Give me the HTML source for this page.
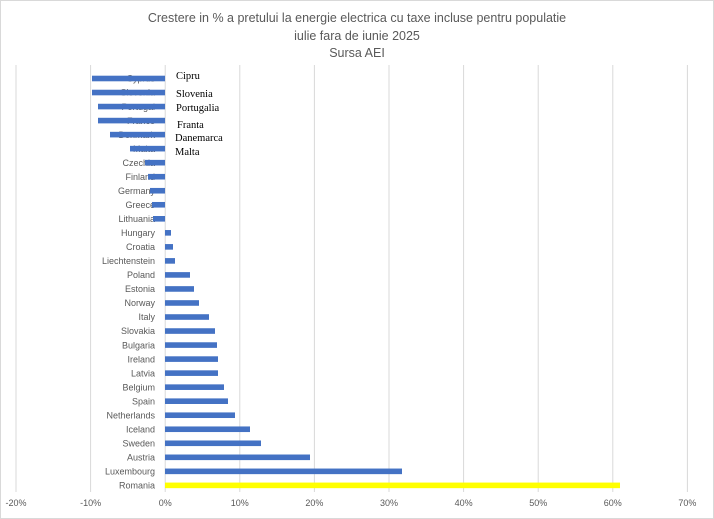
<!DOCTYPE html>
<html><head><meta charset="utf-8"><style>
body{margin:0;background:#fff}
svg{display:block}
</style></head><body>
<svg width="714" height="519" xmlns="http://www.w3.org/2000/svg">
<rect x="0.5" y="0.5" width="713" height="518" fill="#fff" stroke="#d9d9d9"/>
<g font-family="Liberation Sans, sans-serif" font-size="12.5" fill="#595959" text-anchor="middle">
<text x="357" y="22">Crestere in % a pretului la energie electrica cu taxe incluse pentru populatie</text>
<text x="357" y="40">iulie fara de iunie 2025</text>
<text x="357" y="57">Sursa AEI</text>
</g>
<g stroke="#d9d9d9" stroke-width="1" id="grid"></g>
<g id="lab" font-family="Liberation Sans, sans-serif" font-size="9" fill="#595959" text-anchor="end"></g>
<g id="bars"></g>
<g id="tick" font-family="Liberation Sans, sans-serif" font-size="9" fill="#595959" text-anchor="middle"></g>
<g font-family="Liberation Serif, serif" font-size="10.5" fill="#000">
<text x="176" y="79">Cipru</text>
<text x="176" y="97">Slovenia</text>
<text x="176" y="111">Portugalia</text>
<text x="177" y="128">Franta</text>
<text x="175" y="141">Danemarca</text>
<text x="175" y="155">Malta</text>
</g>
</svg>
<script>
const ns="http://www.w3.org/2000/svg";
const names=["Cyprus","Slovenia","Portugal","France","Denmark","Malta","Czechia","Finland","Germany","Greece","Lithuania","Hungary","Croatia","Liechtenstein","Poland","Estonia","Norway","Italy","Slovakia","Bulgaria","Ireland","Latvia","Belgium","Spain","Netherlands","Iceland","Sweden","Austria","Luxembourg","Romania"];
const ends=[92,92,98,98,110,130,145,148,150,152,153,171,173,175,190,194,199,209,215,217,218,218,224,228,235,250,261,310,402,620];
function el(t,a,p,txt){const e=document.createElementNS(ns,t);for(const k in a)e.setAttribute(k,a[k]);if(txt)e.textContent=txt;document.getElementById(p).appendChild(e);}
for(let i=0;i<10;i++){const x=16+i*74.6;el("line",{x1:x,x2:x,y1:65,y2:492},"grid");el("text",{x:x,y:506},"tick",(i*10-20)+"%");}
names.forEach((n,i)=>{const y=78.5+i*14.03;el("text",{x:155,y:y+3.2},"lab",n);
const x0=Math.min(165,ends[i]),w=Math.abs(ends[i]-165);
el("rect",{x:x0,y:y-2.8,width:w,height:5.6,fill:i==29?"#ffff00":"#4472c4"},"bars");});
</script>
</body></html>
